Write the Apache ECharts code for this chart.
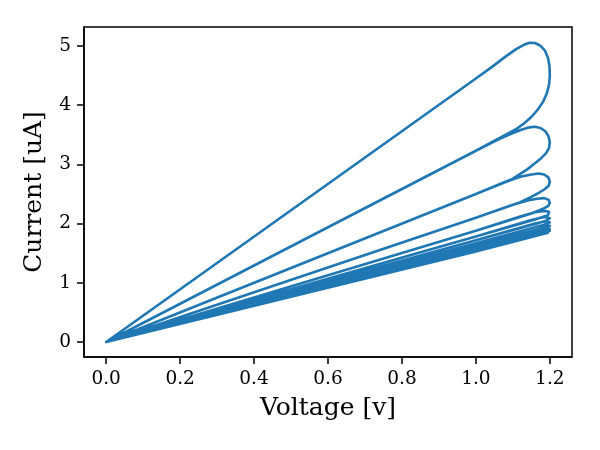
<!DOCTYPE html>
<html>
<head>
<meta charset="utf-8">
<script src="https://cdn.jsdelivr.net/npm/echarts@6/dist/echarts.min.js"></script>
<style>
html,body{margin:0;padding:0;background:#fff;}
#chart{width:600px;height:450px;}
</style>
</head>
<body>
<div id="chart"></div>
<script>
// Voltage [v] sweep points
const voltage = [
  0, 1.00, 1.04, 1.08, 1.11, 1.13, 1.145, 1.16, 1.175, 1.187, 1.195, 1.199, 1.20, 1.198, 1.192, 1.182, 1.168, 1.15, 1.13, 1.11, 1.09, 1.00, 0,
  1.00, 1.06, 1.10, 1.125, 1.145, 1.16, 1.175, 1.188, 1.196, 1.20, 1.198, 1.19, 1.176, 1.158, 1.14, 1.12, 1.10, 1.00, 0,
  1.00, 1.08, 1.12, 1.15, 1.17, 1.185, 1.196, 1.20, 1.197, 1.186, 1.17, 1.15, 1.12, 1.00, 0,
  1.00, 1.10, 1.14, 1.165, 1.185, 1.197, 1.20, 1.196, 1.185, 1.17, 1.15, 1.00, 0,
  1.00, 1.12, 1.16, 1.185, 1.198, 1.20, 1.195, 1.18, 1.16, 1.00, 0,
  1.00, 1.15, 1.185, 1.20, 1.19, 1.17, 1.00, 0,
  1.00, 1.16, 1.19, 1.20, 1.185, 1.00, 0,
  1.00, 1.16, 1.19, 1.20, 1.19, 1.00, 0,
  1.00, 1.17, 1.19, 1.20, 1.19, 1.00, 0,
  1.00, 1.17, 1.19, 1.20, 1.19, 1.00, 0,
  1.00, 1.18, 1.195, 1.20, 1.19, 1.00, 0,
  1.00, 1.18, 1.195, 1.20, 1.19, 1.00, 0
];
// Current [uA] at each point
const current = [
  0, 4.45, 4.63, 4.82, 4.95, 5.02, 5.055, 5.05, 5.00, 4.92, 4.80, 4.66, 4.50, 4.35, 4.20, 4.06, 3.93, 3.80, 3.69, 3.60, 3.53, 3.23, 0,
  3.23, 3.42, 3.53, 3.59, 3.625, 3.635, 3.615, 3.56, 3.48, 3.38, 3.28, 3.19, 3.10, 3.01, 2.92, 2.84, 2.76, 2.50, 0,
  2.50, 2.70, 2.79, 2.83, 2.845, 2.83, 2.78, 2.71, 2.64, 2.58, 2.52, 2.45, 2.36, 2.10, 0,
  2.10, 2.32, 2.39, 2.42, 2.43, 2.40, 2.35, 2.30, 2.26, 2.22, 2.17, 1.88, 0,
  1.88, 2.12, 2.19, 2.215, 2.20, 2.17, 2.14, 2.11, 2.07, 1.78, 0,
  1.78, 2.06, 2.11, 2.09, 2.05, 2.01, 1.72, 0,
  1.72, 2.00, 2.04, 2.02, 1.98, 1.67, 0,
  1.67, 1.94, 1.98, 1.96, 1.94, 1.63, 0,
  1.63, 1.90, 1.93, 1.91, 1.90, 1.60, 0,
  1.60, 1.87, 1.89, 1.88, 1.87, 1.57, 0,
  1.57, 1.85, 1.86, 1.85, 1.84, 1.55, 0,
  1.55, 1.83, 1.845, 1.84, 1.82, 1.53, 0
];
const xTicks = [0, 0.2, 0.4, 0.6, 0.8, 1.0, 1.2];
const yTicks = [0, 1, 2, 3, 4, 5];

const data = voltage.map((v, i) => [v, current[i]]);
const FONT = 'DejaVu Serif';
const chart = echarts.init(document.getElementById('chart'), null, {renderer: 'canvas'});
chart.setOption({
  animation: false,
  backgroundColor: '#fff',
  grid: {left: 84, right: 28, top: 27, bottom: 93, show: true, borderColor: '#000', borderWidth: 1.5, backgroundColor: 'transparent'},
  xAxis: {
    type: 'value', min: -0.06, max: 1.26,
    name: 'Voltage [v]', nameLocation: 'middle', nameGap: 39,
    nameTextStyle: {fontFamily: FONT, fontSize: 25, color: '#000'},
    axisLine: {show: true, onZero: false, lineStyle: {color: '#000', width: 1.5}},
    axisTick: {show: true, inside: false, length: 7, lineStyle: {color: '#000', width: 1.5}, customValues: xTicks},
    axisLabel: {fontFamily: FONT, fontSize: 18.5, color: '#000', margin: 13, customValues: xTicks, formatter: v => v.toFixed(1)},
    splitLine: {show: false}
  },
  yAxis: {
    type: 'value', min: -0.253, max: 5.32,
    name: 'Current [uA]', nameLocation: 'middle', nameGap: 37,
    nameTextStyle: {fontFamily: FONT, fontSize: 25, color: '#000'},
    axisLine: {show: true, onZero: false, lineStyle: {color: '#000', width: 1.5}},
    axisTick: {show: true, inside: false, length: 7, lineStyle: {color: '#000', width: 1.5}, customValues: yTicks},
    axisLabel: {fontFamily: FONT, fontSize: 18.5, color: '#000', margin: 13, customValues: yTicks, formatter: v => String(v)},
    splitLine: {show: false}
  },
  series: [{
    type: 'line', data: data, showSymbol: false, symbol: 'none',
    lineStyle: {color: '#1f77b4', width: 2.6, join: 'round'},
    clip: true
  }]
});
</script>
</body>
</html>
